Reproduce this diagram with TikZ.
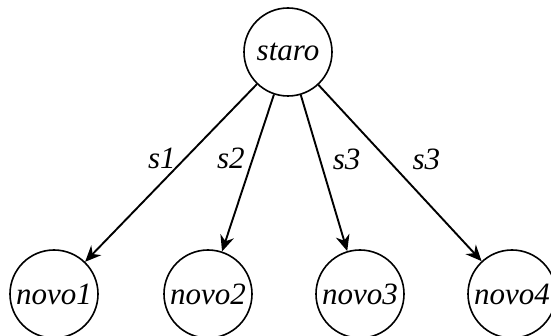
\documentclass[tikz,border=0pt]{standalone}
\usepackage{fontspec}
\setmainfont{Liberation Serif}
\usetikzlibrary{arrows.meta}

\begin{document}
\begin{tikzpicture}[
    x=0.5pt, y=-0.5pt,
    state/.style={draw, circle, line width=0.8pt, minimum size=44pt, inner sep=0pt,
                  font=\fontsize{15.5}{18}\selectfont\itshape},
    arrow/.style={-{Stealth[length=8pt,width=7pt]}, line width=0.95pt},
    label/.style={font=\fontsize{15.5}{18}\selectfont\itshape}
  ]
    \useasboundingbox (0,0) rectangle (551,336);

    \node[state] (staro) at (288,52) {staro};
    \node[state] (novo1) at (54,294) {novo1};
    \node[state] (novo2) at (208,294) {novo2};
    \node[state] (novo3) at (360,294) {novo3};
    \node[state] (novo4) at (512,294) {novo4};

    \draw[arrow] (staro) -- node[pos=.42, left=0.7pt, label] {s1} (novo1);
    \draw[arrow] (staro) -- node[pos=.41, left=0.2pt, label] {s2} (novo2);
    \draw[arrow] (staro) -- node[pos=.41, right=2.7pt, label] {s3} (novo3);
    \draw[arrow] (staro) -- node[pos=.42, right=9pt, label] {s3} (novo4);
  \end{tikzpicture}
\end{document}
